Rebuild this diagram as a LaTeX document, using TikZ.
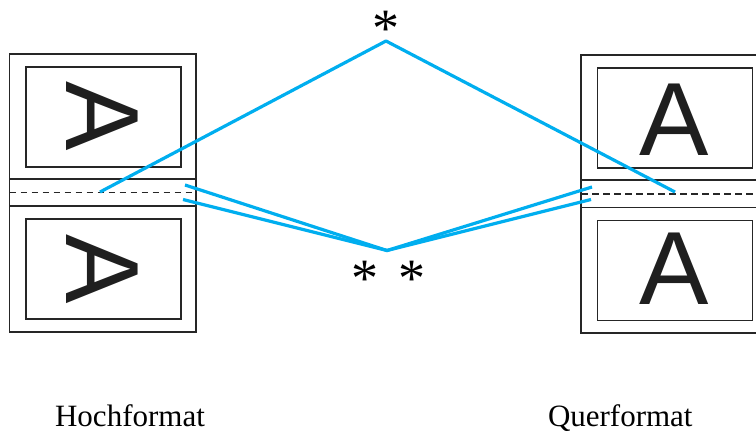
\documentclass[tikz,border=0pt]{standalone}
\usepackage{fontspec}
\newfontfamily\labelfont{Liberation Serif}
\newfontfamily\letterfont{Liberation Sans}
\begin{document}
\begin{tikzpicture}[x=1pt,y=-1pt,
  frame/.style={draw=black!85, line width=1.8pt, inner sep=0pt, outer sep=0pt},
  pagebox/.style={frame, minimum width=186.5pt, minimum height=278pt},
  innerbox/.style={frame, minimum width=155pt, minimum height=100pt},
  letterA/.style={inner sep=0pt, font=\letterfont\fontsize{104}{104}\selectfont, text=black!88},
  foldline/.style={draw=black!85, line width=1.8pt},
  cutline/.style={draw=black!85, line width=1.8pt, dash pattern=on 6.5pt off 4.5pt},
  blueline/.style={line width=3.2pt, line join=round, draw={rgb,255:red,0;green,174;blue,239}},
  caption/.style={inner sep=0pt, anchor=base, font=\labelfont\fontsize{31}{31}\selectfont},
  star/.style={inner sep=0pt, anchor=north, font=\labelfont\fontsize{54}{54}\selectfont}
]
\useasboundingbox (0,0) rectangle (756,433);
\clip (0,0) rectangle (756,433);

% left page (Hochformat)
\node[pagebox] (lpage) at (102.75,193) {};
\coordinate (lf1w) at (9.5,179);   \coordinate (lf1e) at (196,179);
\coordinate (lf2w) at (9.5,206);   \coordinate (lf2e) at (196,206);
\coordinate (lcw) at (9.5,192.5);  \coordinate (lce) at (196,192.5);
\draw[foldline] (lf1w) -- (lf1e);
\draw[foldline] (lf2w) -- (lf2e);
\draw[cutline] (lcw) -- (lce);
\node[innerbox] (lu) at (103.5,117) {};
\node[innerbox] (ll) at (103.5,269) {};
\node[letterA, rotate=-90] (luA) at (102.5,116) {A};
\node[letterA, rotate=-90] (llA) at (102.5,269) {A};

% right page (Querformat)
\node[pagebox] (rpage) at (674.5,194) {};
\coordinate (rf1w) at (581,180);   \coordinate (rf1e) at (768,180);
\coordinate (rf2w) at (581,207.5); \coordinate (rf2e) at (768,207.5);
\coordinate (rcw) at (581,194);    \coordinate (rce) at (768,194);
\draw[foldline] (rf1w) -- (rf1e);
\draw[foldline] (rf2w) -- (rf2e);
\draw[cutline] (rcw) -- (rce);
\node[innerbox] (ru) at (675,118) {};
\node[innerbox] (rl) at (675,270.5) {};
\node[letterA] (ruA) at (674,120) {A};
\node[letterA] (rlA) at (674,269) {A};

% blue connectors
\coordinate (T) at (386,41);
\coordinate (B) at (387,250.5);
\coordinate (tl) at (100,192);
\coordinate (tr) at (675,192);
\coordinate (bl1) at (185,185);
\coordinate (bl2) at (183,199.5);
\coordinate (br1) at (592,187);
\coordinate (br2) at (591,199.5);
\draw[blueline] (tl) -- (T) -- (tr);
\draw[blueline] (bl1) -- (B) -- (br1);
\draw[blueline] (bl2) -- (B) -- (br2);

% asterisks
\node[star] (s1) at (386,11) {*};
\node[star] (s2) at (365,261) {*};
\node[star] (s3) at (411.7,261) {*};

% captions
\node[caption] (hoch) at (130,426.7) {Hochformat};
\node[caption] (quer) at (620.3,426.7) {Querformat};
\end{tikzpicture}
\end{document}
